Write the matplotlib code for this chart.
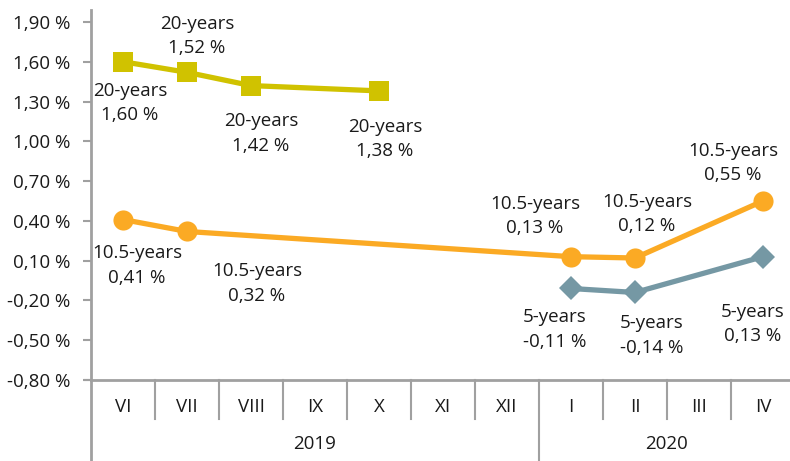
import numpy as np
import matplotlib
matplotlib.use("Agg")
import matplotlib.pyplot as plt
from matplotlib.transforms import blended_transform_factory

plt.rcParams['font.family'] = ['Open Sans', 'DejaVu Sans']

months = ["VI", "VII", "VIII", "IX", "X", "XI", "XII", "I", "II", "III", "IV"]
years = ["2019", "2020"]
year_spans = [(0, 7), (7, 11)]

y20 = [1.60, 1.52, 1.42, np.nan, 1.38, np.nan, np.nan, np.nan, np.nan, np.nan, np.nan]
y105 = [0.41, 0.32, np.nan, np.nan, np.nan, np.nan, np.nan, 0.13, 0.12, np.nan, 0.55]
y5 = [np.nan, np.nan, np.nan, np.nan, np.nan, np.nan, np.nan, -0.11, -0.14, np.nan, 0.13]

yticks = [-0.80, -0.50, -0.20, 0.10, 0.40, 0.70, 1.00, 1.30, 1.60, 1.90]

series = [
    ("20-years", y20, "#D0C200", "s", 14.5,
     [(7, -41), (10, 36), (10, -48), None, (6, -48), None, None, None, None, None, None]),
    ("10.5-years", y105, "#FBAA24", "o", 14.5,
     [(14, -46), (70, -52), None, None, None, None, None, (-36, 41), (12, 44), None, (-30, 38)]),
    ("5-years", y5, "#7598A4", "D", 12,
     [None, None, None, None, None, None, None, (-16, -41), (17, -43), None, (-10, -67)]),
]

fig = plt.figure(figsize=(7.9, 4.61), dpi=100)
ax = fig.add_axes([91 / 790, (461 - 380) / 461, (795 - 91) / 790, (380 - 10) / 461])

gray = "#A0A0A0"
fs = 13.5
x = np.arange(len(months))
for name, vals, color, marker, ms, offs in series:
    v = np.array(vals, dtype=float)
    m = ~np.isnan(v)
    ax.plot(x[m], v[m], color=color, lw=3.8, marker=marker, ms=ms,
            markeredgewidth=0, solid_capstyle='round', zorder=3)
    for i in range(len(v)):
        if m[i] and offs[i] is not None:
            txt = f"{name}\n" + f"{v[i]:.2f}".replace(".", ",") + " %"
            ax.annotate(txt, (x[i], v[i]), xytext=offs[i], textcoords='offset pixels',
                        ha='center', va='center', fontsize=fs, color="#1a1a1a",
                        linespacing=1.45, zorder=4)

ax.set_xlim(-0.5, len(months) - 0.5)
ax.set_ylim(-0.80, 1.99)
ax.set_yticks(yticks)
ax.set_yticklabels([f"{t:.2f}".replace(".", ",") + " %" for t in yticks], fontsize=fs, color="#1a1a1a")
ax.tick_params(axis='y', length=6, width=1.5, color=gray, pad=9)
ax.set_xticks([])
for s in ["top", "right"]:
    ax.spines[s].set_visible(False)
ax.spines["left"].set_color(gray)
ax.spines["left"].set_linewidth(2)
ax.spines["bottom"].set_color(gray)
ax.spines["bottom"].set_linewidth(2)

tr = blended_transform_factory(ax.transData, ax.transAxes)
ax_h = 380 - 10
def yfrac(py):
    return (380 - py) / ax_h

ax.plot([-0.5, -0.5], [0, yfrac(461)], transform=tr, color=gray, lw=2, clip_on=False)
ax.plot([-0.6, -0.5], [0, 0], transform=tr, color=gray, lw=1.5, clip_on=False)

year_bounds = {b for sp in year_spans for b in sp}
for k in range(1, len(months)):
    xb = k - 0.5
    bottom = yfrac(461) if k in year_bounds else yfrac(419)
    ax.plot([xb, xb], [0, bottom], transform=tr, color=gray, lw=1.5, clip_on=False)
for i, mlab in enumerate(months):
    ax.text(i, yfrac(407), mlab, transform=tr, ha='center', va='center', fontsize=fs, color="#1a1a1a")
for yl, (a, b) in zip(years, year_spans):
    ax.text((a + b - 1) / 2, yfrac(444), yl, transform=tr, ha='center', va='center', fontsize=fs, color="#1a1a1a")

fig.savefig("out.png", dpi=100)
